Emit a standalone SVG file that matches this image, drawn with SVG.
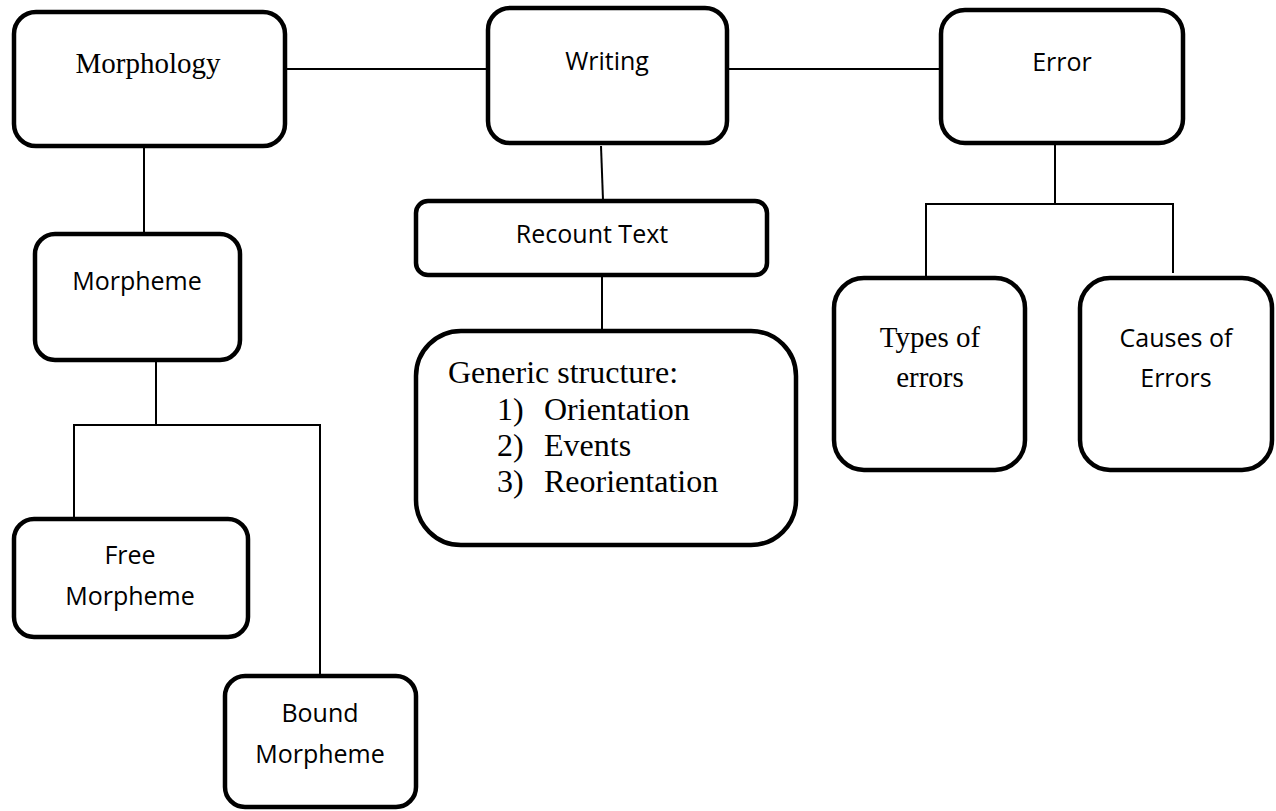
<svg xmlns="http://www.w3.org/2000/svg" width="1276" height="811" viewBox="0 0 1276 811">
<style>
.box{fill:#fff;stroke:#000;stroke-width:4.5}
.ln{fill:none;stroke:#000;stroke-width:2}
.sans{font-family:"Open Sans","Liberation Sans",sans-serif;font-size:25px;fill:#000;text-anchor:middle}
.serif{font-family:"Liberation Serif","Times New Roman",serif;font-size:29px;fill:#000;text-anchor:middle}
.gen{font-family:"Liberation Serif","Times New Roman",serif;font-size:32px;fill:#000}
</style>
<rect width="1276" height="811" fill="#fff"/>
<g id="connectors">
<line class="ln" x1="287" y1="69" x2="488" y2="69"/>
<line class="ln" x1="729" y1="69" x2="941" y2="69"/>
<line class="ln" x1="601" y1="146" x2="603" y2="200"/>
<line class="ln" x1="602" y1="277" x2="602" y2="330"/>
<line class="ln" x1="1055" y1="145" x2="1055" y2="203"/>
<polyline class="ln" points="926,278 926,204 1173,204 1173,273"/>
<line class="ln" x1="144" y1="148" x2="144" y2="233"/>
<line class="ln" x1="156" y1="362" x2="156" y2="425"/>
<polyline class="ln" points="74,518 74,425 320,425 320,675"/>
</g>
<g id="morphology">
<rect class="box" x="14" y="12" width="271" height="134" rx="22"/>
<text class="serif" x="148" y="73">Morphology</text>
</g>
<g id="writing">
<rect class="box" x="488" y="8" width="239" height="135" rx="22"/>
<text class="sans" x="607" y="70">Writing</text>
</g>
<g id="error">
<rect class="box" x="941" y="10" width="242" height="133" rx="24"/>
<text class="sans" x="1062" y="71">Error</text>
</g>
<g id="recount">
<rect class="box" x="416" y="201" width="351" height="74" rx="12"/>
<text class="sans" x="592" y="243">Recount Text</text>
</g>
<g id="generic">
<rect class="box" x="416" y="331" width="380" height="214" rx="45"/>
<text class="gen" x="448" y="383">Generic structure:</text>
<text class="gen" x="497" y="420">1)</text><text class="gen" x="544" y="420">Orientation</text>
<text class="gen" x="497" y="456">2)</text><text class="gen" x="544" y="456">Events</text>
<text class="gen" x="497" y="492">3)</text><text class="gen" x="544" y="492">Reorientation</text>
</g>
<g id="types">
<rect class="box" x="834" y="278" width="191" height="192" rx="30"/>
<text class="serif" x="930" y="347">Types of</text>
<text class="serif" x="930" y="387">errors</text>
</g>
<g id="causes">
<rect class="box" x="1080" y="278" width="192" height="192" rx="30"/>
<text class="sans" x="1176" y="347">Causes of</text>
<text class="sans" x="1176" y="387">Errors</text>
</g>
<g id="morpheme">
<rect class="box" x="35" y="234" width="205" height="126" rx="20"/>
<text class="sans" x="137" y="290">Morpheme</text>
</g>
<g id="free">
<rect class="box" x="14" y="519" width="234" height="118" rx="20"/>
<text class="sans" x="130" y="564">Free</text>
<text class="sans" x="130" y="605">Morpheme</text>
</g>
<g id="bound">
<rect class="box" x="225" y="676" width="191" height="131" rx="20"/>
<text class="sans" x="320" y="722">Bound</text>
<text class="sans" x="320" y="763">Morpheme</text>
</g>
</svg>
